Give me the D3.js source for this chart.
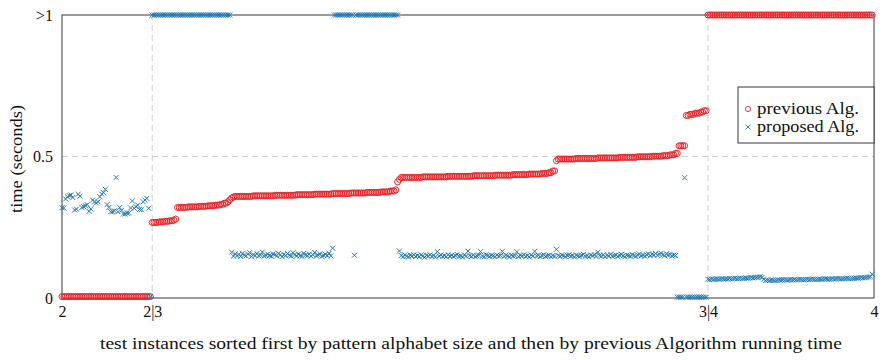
<!DOCTYPE html>
<html>
<head>
<meta charset="utf-8">
<script src="https://cdn.jsdelivr.net/npm/d3@7"></script>
<style>
  body { margin: 0; background: #fff; }
  text { font-family: "Liberation Serif", serif; fill: #111; }
</style>
</head>
<body>
<script>
// instances per pattern alphabet size (2, 3, 4)
const groupSizes = [50, 308, 92];
const xTickLabels = ["2", "2|3", "3|4", "4"];
const yTickValues = [0, 0.5, 1];
const yTickLabels = ["0", "0.5", ">1"];

// running times in ms, 1000 stands for ">1"
// previous Alg. as [run length, ms]
const previousRuns = [
    [50, 5],
    [4, 267], [3, 269], [3, 271], [2, 273], [1, 275], [1, 279],
    [6, 320], [6, 322], [5, 324], [4, 326], [3, 328], [2, 331], [2, 335],
    [1, 340], [1, 347], [1, 353], [1, 357],
    [10, 359], [12, 361], [12, 363], [10, 365], [10, 367], [10, 369], [9, 371], [8, 373], [5, 375], [3, 378], [1, 382],
    [1, 410], [1, 419],
    [12, 426], [14, 428], [14, 430], [12, 432], [10, 434], [9, 436], [7, 438], [4, 440], [2, 443], [2, 449],
    [1, 485], [10, 491], [12, 493], [12, 495], [10, 497], [8, 499], [6, 501], [4, 503], [3, 506], [2, 511],
    [4, 538],
    [2, 645], [3, 649], [3, 653], [2, 657], [2, 662],
    [92, 1000]
];

// proposed Alg.
const proposedSize2 = [
    319, 318, 350, 358, 362, 364, 355, 311, 314, 367,
    360, 320, 323, 326, 330, 306, 315, 346, 340, 336,
    340, 358, 367, 372, 384, 330, 320, 305, 305, 308,
    426, 305, 320, 310, 297, 297, 300, 300, 318, 343,
    317, 323, 328, 313, 312, 340, 346, 352, 317, 5
];
// [run length, ms], null = take the next values of proposedBand
const proposedRuns3 = [[44, 1000], [57, null], [11, 1000], [1, 151], [24, 1000], [154, null], [4, 3], [1, 425], [12, 3]];
const proposedBand = [
    162, 148, 156, 150, 154, 147, 158, 151, 149, 155,
    160, 146, 153, 150, 157, 149, 152, 162, 148, 151,
    155, 150, 147, 156, 153, 149, 158, 152, 146, 154,
    150, 157, 151, 148, 160, 153, 149, 155, 150, 147,
    158, 152, 150, 155, 148, 153, 161, 149, 152, 156,
    147, 151, 154, 150, 158, 149, 176,
    166, 150, 146, 152, 148, 145, 151, 149, 153, 147,
    150, 146, 152, 149, 144, 151, 148, 153, 147, 150,
    145, 164, 149, 152, 147, 150, 146, 153, 148, 151,
    146, 150, 154, 147, 149, 145, 152, 148, 166, 150,
    147, 152, 146, 149, 151, 164, 148, 145, 153, 150,
    147, 151, 149, 146, 152, 148, 150, 165, 147, 151,
    149, 145, 152, 148, 150, 163, 146, 151, 149, 153,
    147, 150, 145, 152, 148, 165, 149, 151, 146, 150,
    153, 147, 149, 151, 146, 150, 148, 172, 150, 147,
    152, 149, 146, 151, 153, 148, 150, 145, 152, 149,
    147, 151, 154, 148, 150, 146, 152, 149, 153, 147,
    162, 150, 148, 153, 146, 151, 149, 155, 148, 150,
    152, 147, 151, 154, 149, 146, 152, 150, 148, 153,
    150, 147, 152, 155, 149, 151, 148, 153, 156, 150,
    154, 152, 157, 151, 155, 158, 153, 150, 156, 152,
    154, 149, 151, 150
];
const proposedSize4 = [
    66, 65, 67, 66, 67, 68, 66, 67, 68, 67,
    68, 67, 69, 68, 69, 70, 68, 69, 70, 69,
    70, 71, 70, 71, 72, 71, 72, 73, 74, 75,
    73, 66, 62, 63, 62, 64, 63, 62, 63, 64,
    63, 64, 65, 64, 63, 64, 65, 64, 65, 64,
    65, 66, 65, 64, 65, 66, 65, 66, 67, 66,
    65, 66, 67, 66, 67, 68, 67, 66, 67, 68,
    67, 68, 69, 68, 67, 68, 69, 70, 69, 68,
    69, 70, 71, 70, 71, 72, 71, 72, 73, 74,
    75, 84
];

function expand(runs, fill) {
    let out = [];
    let k = 0;
    runs.forEach(([n, v]) => {
        for (let j = 0; j < n; j++) out.push(v === null ? fill[k++] : v);
    });
    return out;
}

function main() {
    let width = 888, height = 360;
    let left = 62, right = 874, top = 15, bottom = 298;
    let fontSize = "16px";

    let svg = d3.select("body").append("svg")
        .attr("width", width)
        .attr("height", height);

    let previous = expand(previousRuns);
    let proposed = [].concat(proposedSize2, expand(proposedRuns3, proposedBand), proposedSize4);
    let total = d3.sum(groupSizes);
    let xTickValues = [0, ...Array.from(d3.cumsum(groupSizes))];

    let xScale = d3.scaleLinear().domain([0, total]).range([left, right]);
    let yScale = d3.scaleLinear().domain([0, 1]).range([bottom, top]);

    // dashed grid at the group borders and at 0.5
    let grid = svg.append("g")
        .attr("stroke", "#cfcfcf")
        .attr("stroke-width", 1)
        .attr("stroke-dasharray", "6,4");
    grid.selectAll(".gx")
        .data(xTickValues.slice(1, -1))
        .enter().append("line")
        .attr("x1", d => xScale(d)).attr("x2", d => xScale(d))
        .attr("y1", top).attr("y2", bottom);
    grid.append("line")
        .attr("x1", left).attr("x2", right)
        .attr("y1", yScale(0.5)).attr("y2", yScale(0.5));

    let xAxis = d3.axisBottom(xScale)
        .tickValues(xTickValues)
        .tickFormat((d, i) => xTickLabels[i])
        .tickSize(0)
        .tickPadding(8);
    let yAxis = d3.axisLeft(yScale)
        .tickValues(yTickValues)
        .tickFormat((d, i) => yTickLabels[i])
        .tickSize(0)
        .tickPadding(9);

    let gx = svg.append("g")
        .attr("transform", `translate(0,${bottom})`)
        .call(xAxis);
    let gy = svg.append("g")
        .attr("transform", `translate(${left},0)`)
        .call(yAxis);
    [gx, gy].forEach(g => {
        g.select(".domain").remove();
        g.selectAll("text")
            .style("font-family", "'Liberation Serif', serif")
            .style("font-size", fontSize)
            .attr("fill", "#111");
    });

    svg.append("rect")
        .attr("x", left).attr("y", top)
        .attr("width", right - left).attr("height", bottom - top)
        .attr("fill", "none")
        .attr("stroke", "#222")
        .attr("stroke-width", 0.9);

    let red = "#e8262b", blue = "#1f77b4";
    let cross = "M-2.5,-2.5L2.5,2.5M-2.5,2.5L2.5,-2.5";

    svg.append("g").selectAll("circle")
        .data(previous)
        .enter().append("circle")
        .attr("cx", (d, i) => xScale(i))
        .attr("cy", d => yScale(d / 1000))
        .attr("r", 3)
        .attr("fill", "none")
        .attr("stroke", red)
        .attr("stroke-width", 1);

    svg.append("g").selectAll("path")
        .data(proposed)
        .enter().append("path")
        .attr("transform", (d, i) => `translate(${xScale(i)},${yScale(d / 1000)})`)
        .attr("d", cross)
        .attr("fill", "none")
        .attr("stroke", blue)
        .attr("stroke-width", 0.95);

    svg.append("text")
        .attr("x", 471)
        .attr("y", 349)
        .attr("text-anchor", "middle")
        .attr("textLength", 742)
        .attr("lengthAdjust", "spacingAndGlyphs")
        .style("font-size", fontSize)
        .text("test instances sorted first by pattern alphabet size and then by previous Algorithm running time");

    svg.append("text")
        .attr("transform", "translate(22,159) rotate(-90)")
        .attr("text-anchor", "middle")
        .attr("textLength", 108)
        .attr("lengthAdjust", "spacingAndGlyphs")
        .style("font-size", fontSize)
        .text("time (seconds)");

    // legend
    let legend = svg.append("g").attr("transform", "translate(738,87)");
    legend.append("rect")
        .attr("width", right - 738).attr("height", 56)
        .attr("fill", "#fff")
        .attr("stroke", "#222")
        .attr("stroke-width", 0.9);
    legend.append("circle")
        .attr("cx", 10).attr("cy", 22).attr("r", 2.6)
        .attr("fill", "none").attr("stroke", red).attr("stroke-width", 0.9);
    legend.append("path")
        .attr("transform", "translate(10,40)")
        .attr("d", cross)
        .attr("fill", "none").attr("stroke", blue).attr("stroke-width", 0.9);
    legend.append("text").attr("x", 19).attr("y", 27)
        .attr("textLength", 102).attr("lengthAdjust", "spacingAndGlyphs")
        .style("font-size", fontSize).text("previous Alg.");
    legend.append("text").attr("x", 19).attr("y", 45)
        .attr("textLength", 102).attr("lengthAdjust", "spacingAndGlyphs")
        .style("font-size", fontSize).text("proposed Alg.");
}

main()
</script>
</body>
</html>
